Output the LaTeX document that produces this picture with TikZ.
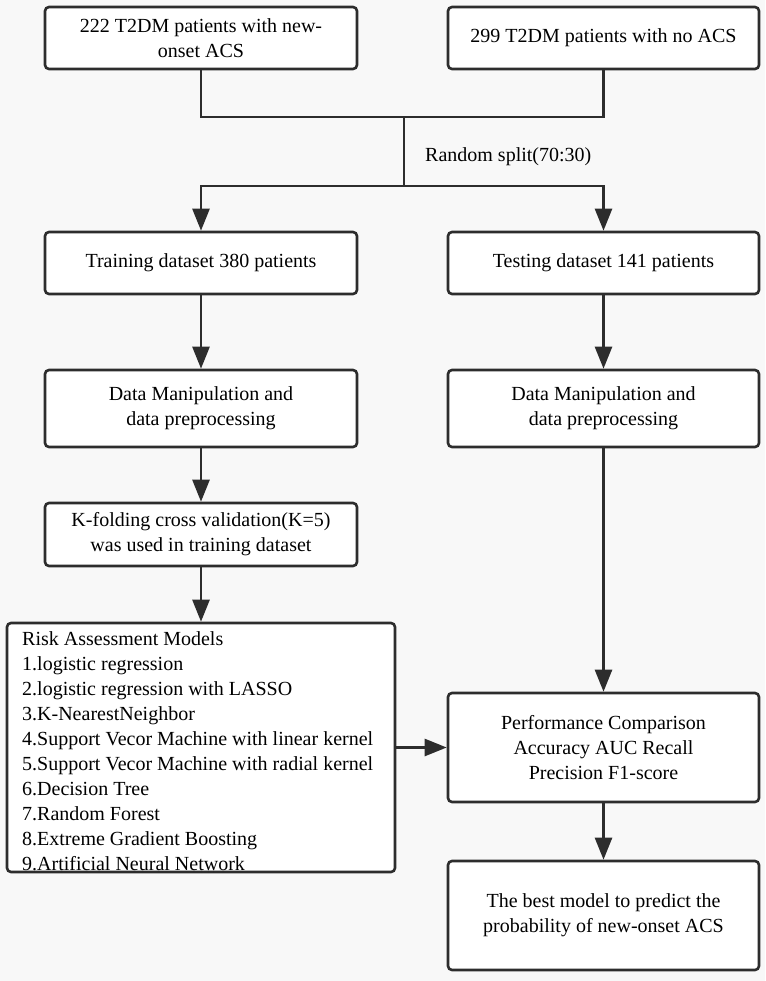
\documentclass[tikz,border=0pt]{standalone}
\usepackage{fontspec}
\setmainfont{Liberation Serif}
\usetikzlibrary{arrows.meta}
\definecolor{bg}{RGB}{248,248,248}
\definecolor{ink}{RGB}{45,45,45}
\begin{document}
\begin{tikzpicture}[x=1pt,y=-1pt,
  txt/.style={font=\fontsize{20}{25}\selectfont},
  box/.style={draw=ink, line width=2.6pt, fill=white, rounded corners=4pt, align=center, txt, inner sep=0pt, minimum width=312pt, minimum height=62pt},
  conn/.style={draw=ink, line width=2.6pt},
  arr/.style={conn, -{Triangle[length=22pt,width=17pt]}}]
\fill[bg] (0,0) rectangle (765,981);
\useasboundingbox (0,0) rectangle (765,981);

\node[box] (A) at (201,38) {222 T2DM patients with new-\\onset ACS};
\node[box, minimum width=311pt] (B) at (603.5,38) {299 T2DM patients with no ACS};
\node[box] (train) at (201,263) {Training dataset 380 patients};
\node[box, minimum width=311pt] (test) at (603.5,263) {Testing dataset 141 patients};
\node[box, minimum height=77pt] (dmL) at (201,408.5) {Data Manipulation and\\data preprocessing};
\node[box, minimum width=311pt, minimum height=77pt] (dmR) at (603.5,408.5) {Data Manipulation and\\data preprocessing};
\node[box, minimum height=63pt] (kf) at (201,534.5) {K-folding cross validation(K=5)\\was used in training dataset};
\node[box, minimum width=388pt, minimum height=249pt] (risk) at (201,747.5) {};
\node[txt, anchor=north west, align=left, inner sep=0pt] (risktxt) at (22,631) {Risk Assessment Models\\
1.logistic regression\\
2.logistic regression with LASSO\\
3.K-NearestNeighbor\\
4.Support Vecor Machine with linear kernel\\
5.Support Vecor Machine with radial kernel\\
6.Decision Tree\\
7.Random Forest\\
8.Extreme Gradient Boosting\\
9.Artificial Neural Network};
\node[box, minimum width=311pt, minimum height=109pt] (perf) at (603.5,747.5) {Performance Comparison\\Accuracy AUC Recall\\Precision F1-score};
\node[box, minimum width=311pt, minimum height=109pt] (best) at (603.5,915.5) {The best model to predict the\\probability of new-onset ACS};

\node[txt, anchor=west, inner sep=0pt] (split) at (425,157) {Random split(70:30)};

\coordinate (j1) at (404,117);
\coordinate (j2) at (404,186);

\draw[conn] (A.south) |- (j1) -| (B.south);
\draw[conn] (j1) -- (j2);
\draw[arr] (j2) -| (train.north);
\draw[arr] (j2) -| (test.north);
\draw[arr] (train.south) -- (dmL.north);
\draw[arr] (dmL.south) -- (kf.north);
\draw[arr] (kf.south) -- (risk.north);
\draw[arr] (test.south) -- (dmR.north);
\draw[arr] (dmR.south) -- (perf.north);
\draw[arr] (perf.south) -- (best.north);
\draw[arr] (risk.east) -- (perf.west);
\end{tikzpicture}
\end{document}
